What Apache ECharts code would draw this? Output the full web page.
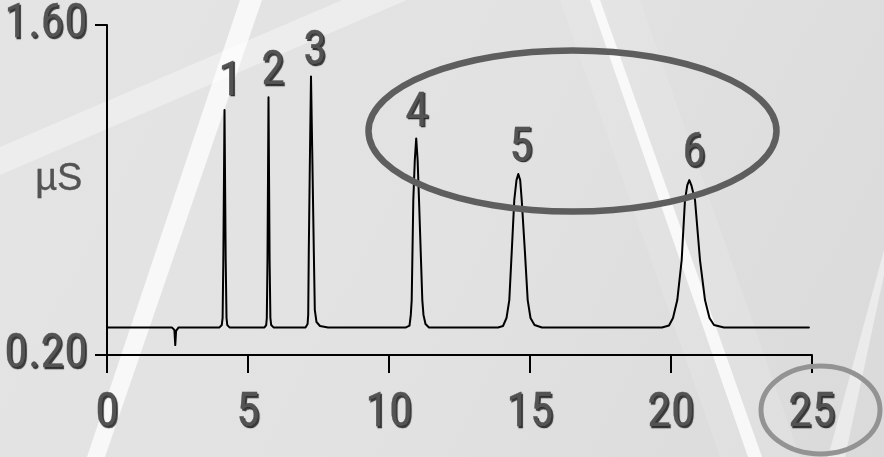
<!DOCTYPE html>
<html>
<head>
<meta charset="utf-8">
<script src="https://cdn.jsdelivr.net/npm/echarts@6/dist/echarts.min.js"></script>
<style>html,body{margin:0;padding:0;background:#e2e2e2;}#c{width:884px;height:457px;}</style>
</head>
<body>
<div id="c"></div>
<script>
// ---- data ----
const xTicks = [0, 5, 10, 15, 20, 25];
const yTicks = [0.20, 1.60];
const yName = 'µS';
const traceTime = [
  0, 2.30, 2.39, 2.42, 2.45, 2.54,
  3.99, 4.07, 4.10, 4.125, 4.167, 4.209, 4.238, 4.266, 4.344,
  5.585, 5.645, 5.667, 5.691, 5.727, 5.766, 5.794, 5.823, 5.904,
  7.039, 7.113, 7.135, 7.156, 7.199, 7.234, 7.277, 7.333, 7.369, 7.429, 7.553, 7.837,
  10.603, 10.727, 10.773, 10.805, 10.862, 10.915, 10.965, 11.015, 11.064, 11.181, 11.223, 11.294, 11.418,
  13.865, 14.043, 14.167, 14.266, 14.355, 14.443, 14.521, 14.585, 14.652, 14.706, 14.816, 14.918, 15.018, 15.160, 15.426,
  19.681, 19.929, 20.071, 20.223, 20.379, 20.496, 20.578, 20.649, 20.720, 20.851, 21.028, 21.206, 21.365, 21.525, 21.879,
  24.89
];
const traceSignal = [
  0.317, 0.317, 0.306, 0.242, 0.302, 0.317,
  0.317, 0.327, 0.357, 0.603, 1.239, 0.603, 0.357, 0.327, 0.317,
  0.317, 0.327, 0.357, 0.603, 1.293, 0.603, 0.357, 0.327, 0.317,
  0.317, 0.3315, 0.370, 0.645, 1.070, 1.381, 1.070, 0.645, 0.391, 0.340, 0.323, 0.317,
  0.317, 0.325, 0.370, 0.433, 0.858, 1.027, 1.119, 1.027, 0.858, 0.433, 0.370, 0.3315, 0.317,
  0.317, 0.323, 0.357, 0.433, 0.645, 0.858, 0.942, 0.968, 0.942, 0.858, 0.645, 0.433, 0.357, 0.327, 0.317,
  0.317, 0.325, 0.357, 0.433, 0.603, 0.858, 0.921, 0.942, 0.921, 0.858, 0.603, 0.433, 0.357, 0.327, 0.317,
  0.317
];
const peakNames = ['1', '2', '3', '4', '5', '6'];
const peakLabelTime = [4.362, 5.887, 7.376, 10.993, 14.681, 20.816];
const peakLabelSignal = [1.355, 1.399, 1.484, 1.223, 1.075, 1.051];

// ---- chart ----
const trace = traceTime.map((t, i) => [t, traceSignal[i]]);
const FONT = 'Roboto,"Liberation Sans",sans-serif';
const textFx = {
  color: '#535353',
  fontWeight: 'normal condensed',
  textBorderColor: '#444',
  textBorderWidth: 0.3,
  textShadowColor: 'rgba(0,0,0,0.75)',
  textShadowBlur: 0.8,
  textShadowOffsetX: 1.5,
  textShadowOffsetY: 1.5
};
const chart = echarts.init(document.getElementById('c'), null, {renderer: 'canvas'});
chart.setOption({
  animation: false,
  backgroundColor: 'transparent',
  graphic: [
    {type: 'rect', z: -100, silent: true, shape: {x: 0, y: 0, width: 884, height: 457},
     style: {fill: {type: 'linear', x: 0, y: 0, x2: 1, y2: 1, colorStops: [
       {offset: 0, color: '#e4e4e4'}, {offset: 0.5, color: '#e2e2e2'}, {offset: 1, color: '#dadada'}]}}},
    {type: 'polygon', z: -99, silent: true, shape: {points: [[0,147],[342,0],[407,0],[0,175]]},
     style: {fill: 'rgba(255,255,255,0.35)'}},
    {type: 'polygon', z: -99, silent: true, shape: {points: [[240,0],[262,0],[105,457],[87,457]]},
     style: {fill: 'rgba(255,255,255,0.75)'}},
    {type: 'polygon', z: -99, silent: true, shape: {points: [[590,0],[600,0],[762,457],[748,457]]},
     style: {fill: 'rgba(255,255,255,0.8)'}},
    {type: 'polygon', z: -99, silent: true, shape: {points: [[560,0],[640,0],[800,457],[720,457]]},
     style: {fill: 'rgba(255,255,255,0.12)'}},
    {type: 'polygon', z: -99, silent: true, shape: {points: [[884,250],[884,275],[845,457],[828,457]]},
     style: {fill: 'rgba(255,255,255,0.45)'}},
    {type: 'ellipse', z: 100, silent: true, shape: {cx: 572.5, cy: 131, rx: 204, ry: 80.5},
     style: {fill: 'none', stroke: '#5e5e5e', lineWidth: 6.5}},
    {type: 'ellipse', z: 100, silent: true, shape: {cx: 820.5, cy: 410, rx: 59.5, ry: 44},
     style: {fill: 'none', stroke: '#939393', lineWidth: 5}},
    {type: 'text', z: 50, silent: true, left: 35, top: 160,
      style: {text: yName, font: '38px "Liberation Sans",Arial,sans-serif', fill: '#535353',
        stroke: '#444', lineWidth: 0.3, shadowColor: 'rgba(0,0,0,0.75)', shadowBlur: 0.8, shadowOffsetX: 1.5, shadowOffsetY: 1.5}}
  ],
  grid: {left: 107, right: 72, top: 25, bottom: 102, containLabel: false, outerBoundsMode: 'none'},
  xAxis: {
    type: 'value', min: 0, max: 25, interval: 5,
    axisLine: {show: true, onZero: false, lineStyle: {color: '#000', width: 2}},
    axisTick: {show: true, length: 18, lineStyle: {color: '#000', width: 2}, customValues: xTicks},
    axisLabel: Object.assign({show: true, margin: 35, fontSize: 48, fontFamily: FONT, customValues: xTicks,
      formatter: v => String(v)}, textFx),
    splitLine: {show: false}
  },
  yAxis: {
    type: 'value', min: 0.2, max: 1.6,
    axisLine: {show: true, onZero: false, lineStyle: {color: '#000', width: 2}},
    axisTick: {show: true, length: 12, lineStyle: {color: '#000', width: 2}, customValues: yTicks},
    axisLabel: Object.assign({show: true, margin: 19, fontSize: 48, fontFamily: FONT, customValues: yTicks,
      formatter: v => v.toFixed(2)}, textFx),
    splitLine: {show: false}
  },
  series: [{
    type: 'line',
    data: trace,
    showSymbol: false,
    smooth: false,
    lineStyle: {color: '#000', width: 2, join: 'round', cap: 'round'},
    markPoint: {
      symbol: 'circle', symbolSize: 0,
      label: Object.assign({show: true, position: 'inside', formatter: '{b}', fontSize: 48, fontFamily: FONT}, textFx),
      data: peakNames.map((n, i) => ({name: n, coord: [peakLabelTime[i], peakLabelSignal[i]]}))
    }
  }]
});
</script>
</body>
</html>
